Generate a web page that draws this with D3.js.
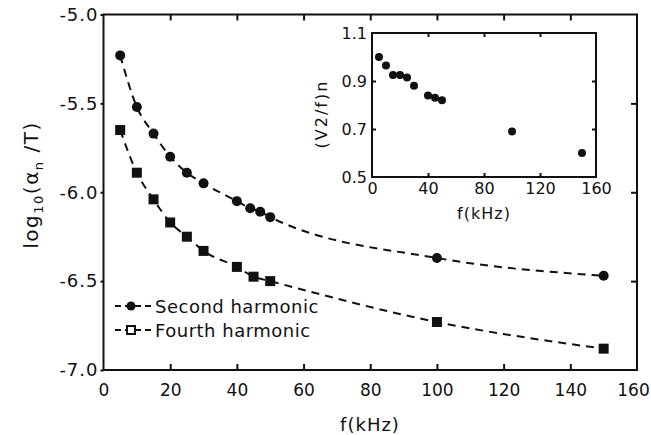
<!DOCTYPE html>
<html>
<head>
<script src="https://d3js.org/d3.v7.min.js"></script>
<style>
  body { margin: 0; background: #fff; }
  text { font-family: "DejaVu Sans", sans-serif; fill: #111; }
</style>
</head>
<body>
<div id="chart"></div>
<script>
// main plot data
const freq2 = [5, 10, 15, 20, 25, 30, 40, 44, 47, 50, 100, 150];
const second = [-5.23, -5.52, -5.67, -5.80, -5.89, -5.95, -6.05, -6.09, -6.11, -6.14, -6.37, -6.47];
const freq4 = [5, 10, 15, 20, 25, 30, 40, 45, 50, 100, 150];
const fourth = [-5.65, -5.89, -6.04, -6.17, -6.25, -6.33, -6.42, -6.475, -6.50, -6.73, -6.88];
const xTicks = [0, 20, 40, 60, 80, 100, 120, 140, 160];
const yTicks = [-5.0, -5.5, -6.0, -6.5, -7.0];

// inset data
const insetFreq = [5, 10, 15, 20, 25, 30, 40, 45, 50, 100, 150];
const insetVal = [1.00, 0.965, 0.925, 0.925, 0.915, 0.88, 0.84, 0.83, 0.82, 0.69, 0.60];
const insetXTicks = [0, 40, 80, 120, 160];
const insetYTicks = [0.5, 0.7, 0.9, 1.1];

const W = 651, H = 435;
const svg = d3.select("#chart").append("svg")
  .attr("width", W).attr("height", H);

// main scales
const x = d3.scaleLinear().domain([0, 160]).range([103.5, 637]);
const y = d3.scaleLinear().domain([-7, -5]).range([370, 14.5]);

// frame
svg.append("rect")
  .attr("x", x(0)).attr("y", y(-5))
  .attr("width", x(160) - x(0)).attr("height", y(-7) - y(-5))
  .attr("fill", "none").attr("stroke", "#111").attr("stroke-width", 2);

function styleAxis(g) {
  g.select(".domain").remove();
  g.selectAll(".tick line").attr("stroke", "#111").attr("stroke-width", 2);
}

// bottom axis with labels
svg.append("g")
  .attr("transform", `translate(0,${y(-7)})`)
  .call(d3.axisBottom(x).tickValues(xTicks).tickSize(-6).tickPadding(14).tickFormat(d3.format("d")))
  .call(styleAxis)
  .call(g => g.selectAll(".tick line").filter(d => d === 0 || d === 160).remove())
  .selectAll("text").style("font-size", "17px")
  .attr("dx", d => d === 160 ? -4 : 0);

// top axis ticks only
svg.append("g")
  .attr("transform", `translate(0,${y(-5)})`)
  .call(d3.axisTop(x).tickValues(xTicks.slice(1, -1)).tickSize(-6).tickFormat(""))
  .call(styleAxis);

// left axis
svg.append("g")
  .attr("transform", `translate(${x(0)},0)`)
  .call(d3.axisLeft(y).tickValues(yTicks).tickSize(3).tickPadding(2).tickFormat(d3.format(".1f")))
  .call(styleAxis)
  .selectAll("text").style("font-size", "18px").style("letter-spacing", "1px")
  .text(d => d3.format(".1f")(d).replace("−", "-"));

// right axis ticks only
svg.append("g")
  .attr("transform", `translate(${x(160)},0)`)
  .call(d3.axisRight(y).tickValues([-5.5, -6.0, -6.5]).tickSize(-6).tickFormat(""))
  .call(styleAxis);

// x axis title
svg.append("text")
  .attr("x", 370).attr("y", 431)
  .attr("text-anchor", "middle")
  .style("font-size", "18px")
  .style("letter-spacing", "1px")
  .text("f(kHz)");

// y axis title
const yTitle = svg.append("text")
  .attr("transform", "translate(38,185) rotate(-90)")
  .attr("text-anchor", "middle")
  .style("font-size", "20px")
  .style("letter-spacing", "1.5px");
yTitle.append("tspan").text("log");
yTitle.append("tspan").attr("dy", 5).style("font-size", "13px").text("10");
yTitle.append("tspan").attr("dy", -5).text("(α");
yTitle.append("tspan").attr("dy", 5).style("font-size", "13px").text("n");
yTitle.append("tspan").attr("dy", -5).text(" /T)");

// dashed curves
const line = d3.line().curve(d3.curveMonotoneX);

svg.append("path")
  .attr("d", line(freq2.map((f, i) => [x(f), y(second[i])])))
  .attr("fill", "none").attr("stroke", "#111")
  .attr("stroke-width", 2).attr("stroke-dasharray", "8,6");

svg.append("path")
  .attr("d", line(freq4.map((f, i) => [x(f), y(fourth[i])])))
  .attr("fill", "none").attr("stroke", "#111")
  .attr("stroke-width", 2).attr("stroke-dasharray", "8,6");

// markers
svg.selectAll(".c2").data(freq2).enter().append("circle")
  .attr("cx", d => x(d)).attr("cy", (d, i) => y(second[i]))
  .attr("r", 5).attr("fill", "#111");

svg.selectAll(".s4").data(freq4).enter().append("rect")
  .attr("x", d => x(d) - 5).attr("y", (d, i) => y(fourth[i]) - 5)
  .attr("width", 10).attr("height", 10).attr("fill", "#111");

// legend
const legend = svg.append("g");
const legItems = ["Second harmonic", "Fourth harmonic"];
legItems.forEach((name, i) => {
  const ly = 306 + i * 24;
  legend.append("line")
    .attr("x1", 115).attr("x2", 152).attr("y1", ly).attr("y2", ly)
    .attr("stroke", "#111").attr("stroke-width", 2).attr("stroke-dasharray", "6,4");
  if (i === 0) {
    legend.append("circle").attr("cx", 131).attr("cy", ly).attr("r", 4.5).attr("fill", "#111");
  } else {
    legend.append("rect").attr("x", 127).attr("y", ly - 4).attr("width", 8).attr("height", 8)
      .attr("fill", "#fff").attr("stroke", "#111").attr("stroke-width", 2);
  }
  legend.append("text")
    .attr("x", 155).attr("y", ly + 7)
    .style("font-size", "18px")
    .style("letter-spacing", "0.5px")
    .text(name);
});

// ---- inset ----
const ix = d3.scaleLinear().domain([0, 160]).range([372, 596]);
const iy = d3.scaleLinear().domain([0.5, 1.1]).range([177, 33]);

svg.append("rect")
  .attr("x", ix(0)).attr("y", iy(1.1))
  .attr("width", ix(160) - ix(0)).attr("height", iy(0.5) - iy(1.1))
  .attr("fill", "#fff").attr("stroke", "#111").attr("stroke-width", 2);

svg.append("g")
  .attr("transform", `translate(0,${iy(0.5)})`)
  .call(d3.axisBottom(ix).tickValues(insetXTicks).tickSize(-4).tickPadding(6).tickFormat(d3.format("d")))
  .call(styleAxis)
  .call(g => g.selectAll(".tick line").filter(d => d === 0 || d === 160).remove())
  .selectAll("text").style("font-size", "16px");

svg.append("g")
  .attr("transform", `translate(0,${iy(1.1)})`)
  .call(d3.axisTop(ix).tickValues([40, 80, 120]).tickSize(-4).tickFormat(""))
  .call(styleAxis);

svg.append("g")
  .attr("transform", `translate(${ix(0)},0)`)
  .call(d3.axisLeft(iy).tickValues(insetYTicks).tickSize(-4).tickPadding(5).tickFormat(d3.format(".1f")))
  .call(styleAxis)
  .call(g => g.selectAll(".tick line").filter(d => d === 0.5 || d === 1.1).remove())
  .selectAll("text").style("font-size", "16px");

svg.append("g")
  .attr("transform", `translate(${ix(160)},0)`)
  .call(d3.axisRight(iy).tickValues([0.7, 0.9]).tickSize(-4).tickFormat(""))
  .call(styleAxis);

svg.selectAll(".ip").data(insetFreq).enter().append("circle")
  .attr("cx", d => ix(d)).attr("cy", (d, i) => iy(insetVal[i]))
  .attr("r", 4).attr("fill", "#111");

svg.append("text")
  .attr("x", 484).attr("y", 219)
  .attr("text-anchor", "middle")
  .style("font-size", "16px")
  .style("letter-spacing", "1px")
  .text("f(kHz)");

svg.append("text")
  .attr("transform", "translate(327,114) rotate(-90)")
  .attr("text-anchor", "middle")
  .style("font-size", "16px")
  .style("letter-spacing", "2px")
  .text("(V2/f)n");
</script>
</body>
</html>
